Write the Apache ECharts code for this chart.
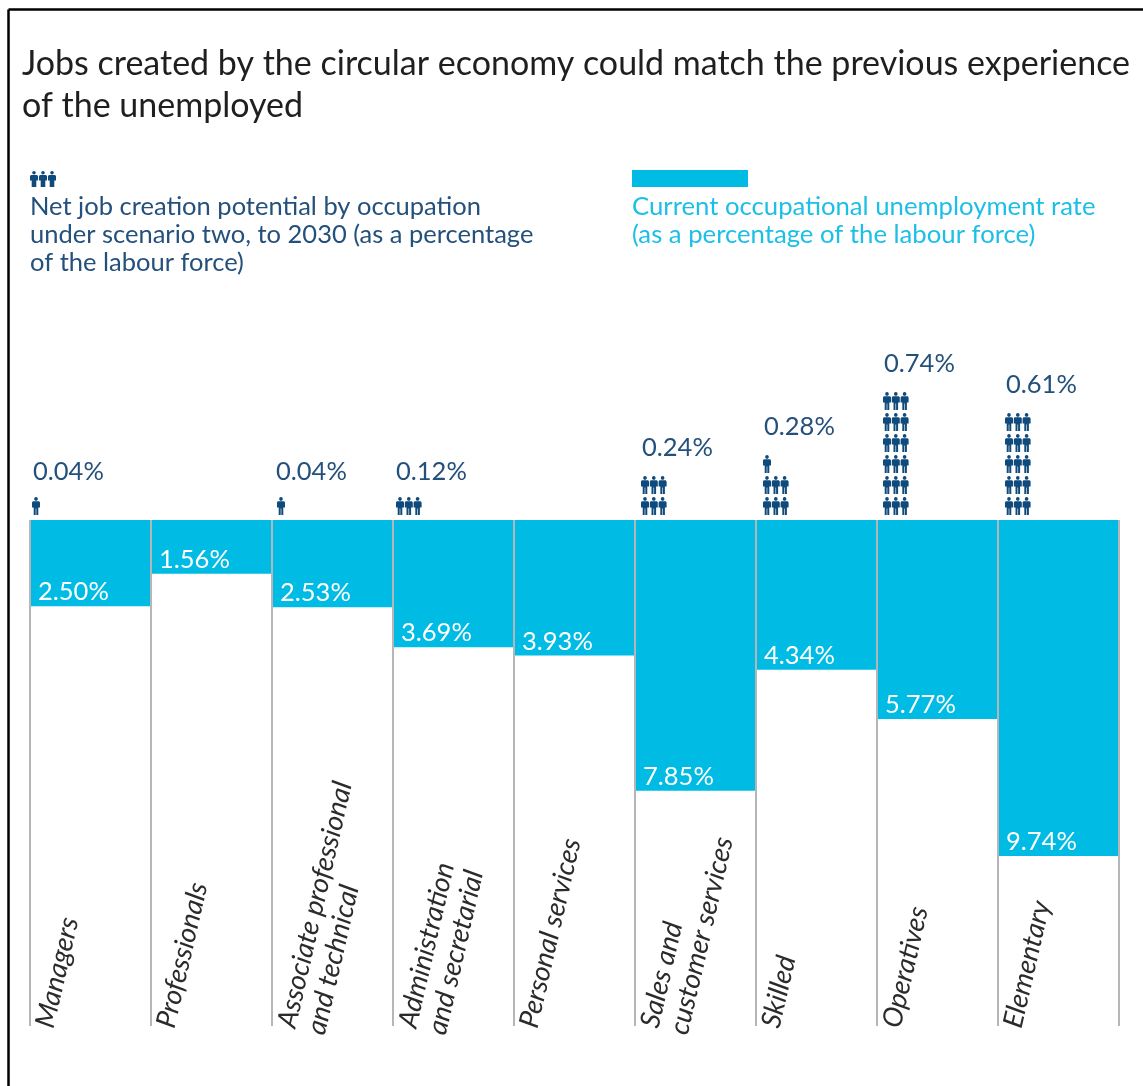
<!DOCTYPE html>
<html><head><meta charset="utf-8">
<style>html,body{margin:0;padding:0;background:#fff}#c{width:1143px;height:1086px}</style>
<script src="https://cdn.jsdelivr.net/npm/echarts@6/dist/echarts.min.js"></script>
</head><body><div id="c"></div>
<script>
const categories = ['Managers','Professionals','Associate professional\nand technical','Administration\nand secretarial','Personal services','Sales and\ncustomer services','Skilled','Operatives','Elementary'];
const unemploymentRate = [2.50,1.56,2.53,3.69,3.93,7.85,4.34,5.77,9.74];
const netJobCreation = [0.04,0,0.04,0.12,0,0.24,0.28,0.74,0.61];
const titleText = 'Jobs created by the circular economy could match the previous experience\nof the unemployed';
const legendNavy = 'Net job creation potential by occupation\nunder scenario two, to 2030 (as a percentage\nof the labour force)';
const legendCyan = 'Current occupational unemployment rate\n(as a percentage of the labour force)';

const FONT='Lato', CYAN='#00bbe4', NAVY='#24507c', ICON='#0f4a7c', GRID='#b4b6b9';
const iconOffset=[2,0,5,3,0,6,7,6,7];
const labelOffset=[3,0,4,3,0,7,8,7,8];
const PERSON='M4 0C5.1 0 5.8 .8 5.8 1.9C5.8 3 5.1 3.8 4 3.8C2.9 3.8 2.2 3 2.2 1.9C2.2 .8 2.9 0 4 0ZM1.6 4.2H6.4C7.4 4.2 8 4.9 8 5.8V10.5H6.3V18H4.3V11.5H3.7V18H1.7V10.5H0V5.8C0 4.9 .6 4.2 1.6 4.2Z';
const person=(x,y)=>({type:'path',shape:{pathData:PERSON,x:x,y:y,width:8,height:18,layout:'cover'},style:{fill:ICON}});
const legendPerson=d=>[
  {type:'circle',shape:{cx:d+4,cy:1.8,r:1.8},style:{fill:ICON}},
  {type:'polygon',shape:{points:[[d+1,4],[d+7,4],[d+8,5],[d+8,9.5],[d+6.3,9.5],[d+6.3,16],[d+1.7,16],[d+1.7,9.5],[d,9.5],[d,5]]},style:{fill:ICON}}
];

const chart=echarts.init(document.getElementById('c'),null,{renderer:'canvas'});
chart.setOption({
  animation:false,backgroundColor:'#fff',
  title:{text:titleText,left:22,top:43,padding:0,textStyle:{fontFamily:FONT,fontWeight:'normal',fontSize:34,lineHeight:42,color:'#1f1f1f'}},
  grid:[{left:30,width:1089,top:520,height:506},{left:30,width:1089,top:340,height:176}],
  xAxis:[
    {gridIndex:0,type:'category',data:categories,axisLine:{show:false},axisTick:{show:false},axisLabel:{show:false,interval:0},splitLine:{show:true,interval:0,lineStyle:{color:GRID,width:2}}},
    {gridIndex:1,type:'category',data:categories,show:false}
  ],
  yAxis:[
    {gridIndex:0,type:'value',inverse:true,min:0,max:14.67,show:false},
    {gridIndex:1,type:'value',min:0,max:1.006,show:false}
  ],
  graphic:[
    {type:'line',shape:{x1:8.5,y1:9.5,x2:1143,y2:9.5},style:{stroke:'#000',lineWidth:2.5}},
    {type:'line',shape:{x1:8.5,y1:9.5,x2:8.5,y2:1086},style:{stroke:'#000',lineWidth:2.5}},
    {type:'group',x:30,y:171,children:[0,9,18].flatMap(legendPerson)},
    {type:'rect',shape:{x:632,y:170,width:116,height:17},style:{fill:CYAN}},
    {type:'text',x:30,y:193,style:{text:legendNavy,fontFamily:FONT,fontSize:25.5,lineHeight:28,fill:NAVY}},
    {type:'text',x:632,y:193,style:{text:legendCyan,fontFamily:FONT,fontSize:25.7,lineHeight:28,fill:'#1cbfe6'}}
  ],
  series:[
    {name:'Current occupational unemployment rate',type:'bar',xAxisIndex:0,yAxisIndex:0,data:unemploymentRate,barWidth:119,itemStyle:{color:CYAN},
      label:{show:true,position:'insideBottomLeft',distance:0,offset:[7,-1],formatter:p=>p.value.toFixed(2)+'%',fontFamily:FONT,fontSize:25.5,color:'#fff'}},
    {name:'Net job creation potential',type:'custom',xAxisIndex:1,yAxisIndex:1,clip:false,
      data:netJobCreation.map((v,i)=>[i,v]),encode:{x:0,y:1},
      renderItem:(params,api)=>{
        const i=api.value(0),v=api.value(1);
        if(!v) return {type:'group',children:[]};
        const band=api.size([1,0])[0],x0=api.coord([i,0])[0]-band/2;
        const n=Math.floor(v/0.04+0.01),kids=[];
        let top=0;
        for(let k=0;k<n;k++){
          const r=Math.floor(k/3),c=k%3,y=api.coord([i,r*0.12])[1]-19;
          top=y;
          kids.push(person(x0+iconOffset[i]+c*8.8,y));
        }
        kids.push({type:'text',x:x0+labelOffset[i],y:top-(n>3?28.5:25),style:{text:v.toFixed(2)+'%',fontFamily:FONT,fontSize:25.5,fill:NAVY,align:'left',verticalAlign:'middle'}});
        return {type:'group',children:kids};
      }},
    {name:'Occupation',type:'custom',xAxisIndex:0,yAxisIndex:0,clip:false,silent:true,
      data:categories.map((c,i)=>[i,14.67]),encode:{x:0,y:1},
      renderItem:(params,api)=>{
        const i=api.value(0),p=api.coord([i,api.value(1)]),band=api.size([1,0])[0];
        return {type:'text',x:p[0]-band/2,y:p[1]-2,rotation:77*Math.PI/180,
          style:{text:categories[i],fontFamily:FONT,fontStyle:'italic',fontSize:27.5,lineHeight:30,fill:'#2b2b2b',align:'left',verticalAlign:'top'}};
      }}
  ]
});
</script></body></html>
